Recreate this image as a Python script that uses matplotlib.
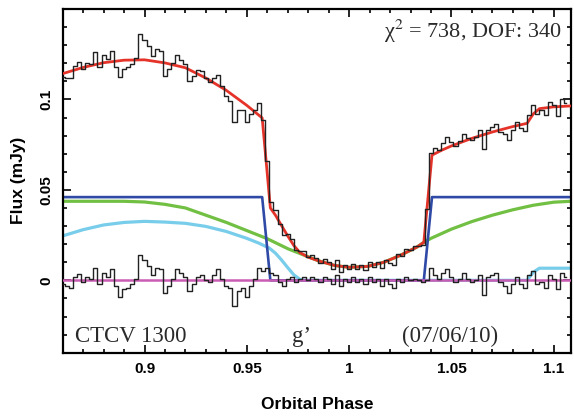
import numpy as np
import matplotlib
matplotlib.use('Agg')
import matplotlib.pyplot as plt
from matplotlib.ticker import MultipleLocator

plt.rcParams['mathtext.fontset'] = 'stix'

# light curve sampling (orbital phase)
phase = np.round(np.arange(0.860, 1.1065, 0.002), 3)

# observed flux (mJy)
flux = [0.1123, 0.1120, 0.1117, 0.1184, 0.1205, 0.1167, 0.1202, 0.1197, 0.1263, 0.1178,
        0.1243, 0.1226, 0.1269, 0.1181, 0.1124, 0.1167, 0.1178, 0.1198, 0.1228, 0.1359,
        0.1329, 0.1296, 0.1242, 0.1279, 0.1265, 0.1132, 0.1167, 0.1201, 0.1246, 0.1220,
        0.1195, 0.1104, 0.1132, 0.1161, 0.1159, 0.1118, 0.1094, 0.1121, 0.1137, 0.1074,
        0.1020, 0.0993, 0.0877, 0.0940, 0.0944, 0.0877, 0.0919, 0.0941, 0.0982, 0.0887,
        0.0658, 0.0432, 0.0390, 0.0311, 0.0253, 0.0255, 0.0230, 0.0169, 0.0163, 0.0160,
        0.0128, 0.0140, 0.0122, 0.0095, 0.0118, 0.0102, 0.0065, 0.0111, 0.0048, 0.0085,
        0.0062, 0.0093, 0.0064, 0.0085, 0.0056, 0.0100, 0.0076, 0.0101, 0.0067, 0.0115,
        0.0094, 0.0084, 0.0143, 0.0134, 0.0175, 0.0166, 0.0187, 0.0191, 0.0196, 0.0392,
        0.0702, 0.0731, 0.0722, 0.0761, 0.0793, 0.0763, 0.0741, 0.0770, 0.0808, 0.0787,
        0.0775, 0.0792, 0.0829, 0.0726, 0.0833, 0.0850, 0.0866, 0.0822, 0.0808, 0.0774,
        0.0830, 0.0875, 0.0840, 0.0825, 0.0915, 0.0970, 0.0919, 0.0940, 0.0913, 0.0986,
        0.0969, 0.0910, 0.1001, 0.0983]

# residuals (data - model)
resid = [-0.002, -0.003, -0.004, 0.002, 0.0035, -0.001, 0.002, 0.001, 0.007, -0.002,
         0.004, 0.002, 0.006, -0.003, -0.009, -0.005, -0.004, -0.002, 0.001, 0.014,
         0.011, 0.008, 0.003, 0.007, 0.006, -0.007, -0.003, 0.001, 0.006, 0.004,
         0.002, -0.006, -0.002, 0.002, 0.003, 0.000, -0.001, 0.003, 0.006, 0.001,
         -0.003, -0.004, -0.014, -0.006, -0.004, -0.009, -0.003, 0.001, 0.007, 0.005,
         0.007, 0.004, 0.003, -0.001, -0.003, 0.001, 0.002, -0.001, 0.001, 0.002,
         0.000, 0.002, 0.001, -0.001, 0.002, 0.001, -0.002, 0.003, -0.003, 0.001,
         -0.001, 0.002, -0.001, 0.001, -0.002, 0.002, -0.001, 0.001, -0.003, 0.001,
         -0.002, -0.004, 0.001, -0.001, 0.002, 0.000, 0.001, 0.000, -0.001, 0.000,
         0.007, 0.003, 0.001, 0.004, 0.006, 0.002, -0.001, 0.001, 0.004, 0.001,
         -0.001, 0.000, 0.003, -0.008, 0.002, 0.003, 0.004, -0.001, -0.003, -0.007,
         -0.002, 0.002, -0.002, -0.004, 0.003, 0.005, -0.002, -0.001, -0.004, 0.003,
         0.001, -0.005, 0.004, 0.002]

# model components
wd_phase = [0.8604, 0.9575, 0.9615, 1.0365, 1.0405, 1.1083]
wd_flux = [0.046, 0.046, 0.0, 0.0, 0.046, 0.046]

disc_phase = [0.8604, 0.89, 0.90, 0.91, 0.92, 0.93, 0.94, 0.95, 0.96, 0.97, 0.976,
              0.985, 0.993, 1.0, 1.009, 1.017, 1.025, 1.033, 1.0365, 1.04, 1.05,
              1.06, 1.07, 1.08, 1.09, 1.10, 1.1083]
disc_flux = [0.0437, 0.0437, 0.0433, 0.0420, 0.0400, 0.0360, 0.0320, 0.0275, 0.0230,
             0.0175, 0.0148, 0.0108, 0.0082, 0.0072, 0.0077, 0.0100, 0.0138, 0.0183,
             0.0210, 0.0232, 0.0283, 0.0325, 0.0360, 0.0390, 0.0415, 0.0432, 0.0437]

bs_phase = [0.8604, 0.87, 0.88, 0.89, 0.90, 0.91, 0.92, 0.93, 0.94, 0.95, 0.956,
            0.961, 0.964, 0.967, 0.970, 0.973, 0.976, 0.978, 1.087, 1.090, 1.093, 1.1083]
bs_flux = [0.0247, 0.0280, 0.0306, 0.0320, 0.0326, 0.0322, 0.0315, 0.0298, 0.0270,
           0.0232, 0.0205, 0.0178, 0.0150, 0.0112, 0.0070, 0.0030, 0.0005, 0.0,
           0.0, 0.0045, 0.0067, 0.0067]

model_phase = [0.8604, 0.87, 0.88, 0.89, 0.90, 0.91, 0.92, 0.93, 0.94, 0.95, 0.9575,
               0.9595, 0.9615, 0.964, 0.967, 0.970, 0.973, 0.976, 0.98, 0.985, 0.993,
               1.0, 1.009, 1.017, 1.025, 1.033, 1.0365, 1.0385, 1.0405, 1.045, 1.05,
               1.06, 1.07, 1.08, 1.087, 1.090, 1.093, 1.10, 1.1083]
model_flux = [0.1144, 0.1177, 0.1203, 0.1217, 0.1219, 0.1202, 0.1175, 0.1118, 0.1050,
              0.0967, 0.0898, 0.0651, 0.0400, 0.0360, 0.0302, 0.0245, 0.0192, 0.0153,
              0.0128, 0.0108, 0.0082, 0.0072, 0.0077, 0.0100, 0.0138, 0.0183, 0.0210,
              0.0452, 0.0692, 0.0718, 0.0743, 0.0785, 0.0820, 0.0850, 0.0868, 0.0920,
              0.0949, 0.0959, 0.0964]

fig = plt.figure(figsize=(5.74, 4.16), dpi=100)
ax = fig.add_axes([0.1106, 0.1522, 0.8837, 0.8262])

ax.plot(disc_phase, disc_flux, color='#72c043', lw=2.3, zorder=2)
ax.plot(bs_phase, bs_flux, color='#78cdea', lw=2.3, zorder=2)
ax.plot(wd_phase, wd_flux, color='#2f4aa6', lw=1.9, zorder=2.5)
ax.axhline(0, color='#c95cb3', lw=1.8, zorder=3)
ax.plot(model_phase, model_flux, color='#e5332a', lw=2.0, zorder=4)
ax.plot(phase, flux, color='#222222', lw=1.0, drawstyle='steps-mid', zorder=5)
ax.plot(phase, resid, color='#222222', lw=1.0, drawstyle='steps-mid', zorder=5)

ax.set_xlim(0.8604, 1.1083)
ax.set_ylim(-0.04, 0.15)

ax.xaxis.set_major_locator(MultipleLocator(0.05))
ax.xaxis.set_minor_locator(MultipleLocator(0.01))
ax.yaxis.set_major_locator(MultipleLocator(0.05))
ax.yaxis.set_minor_locator(MultipleLocator(0.01))
ax.set_xticks([0.9, 0.95, 1.0, 1.05, 1.1])
ax.set_xticklabels(['0.9', '0.95', '1', '1.05', '1.1'])
ax.set_yticks([0, 0.05, 0.1])
ax.set_yticklabels(['0', '0.05', '0.1'], rotation=90, va='center')

ax.tick_params(which='both', direction='in', top=True, right=True, width=1.2)
ax.tick_params(which='major', length=6, pad=7)
ax.tick_params(which='minor', length=3)
for lab in ax.get_xticklabels() + ax.get_yticklabels():
    lab.set_family('Liberation Sans')
    lab.set_weight('bold')
    lab.set_fontsize(11)
for s in ax.spines.values():
    s.set_linewidth(1.6)

ax.set_xlabel('Orbital Phase', family='Liberation Sans', weight='bold', fontsize=12.5, labelpad=15)
ax.set_ylabel('Flux (mJy)', family='Liberation Sans', weight='bold', fontsize=12.5, labelpad=10)

serif = 'Liberation Serif'
tcol = '#2a2a2a'
ax.text(0.982, 0.916, '\u03c7$^2$ = 738, DOF: 340', transform=ax.transAxes, ha='right', va='baseline',
        family=serif, fontsize=16, color=tcol)
ax.text(0.023, 0.03, 'CTCV 1300', transform=ax.transAxes, family=serif, fontsize=16.5,
        color=tcol, va='baseline')
ax.text(0.45, 0.03, 'g\u2019', transform=ax.transAxes, family=serif, fontsize=16.5,
        color=tcol, va='baseline')
ax.text(0.668, 0.03, '(07/06/10)', transform=ax.transAxes, family=serif, fontsize=16.5,
        color=tcol, va='baseline')

fig.savefig('out.png', dpi=100)
